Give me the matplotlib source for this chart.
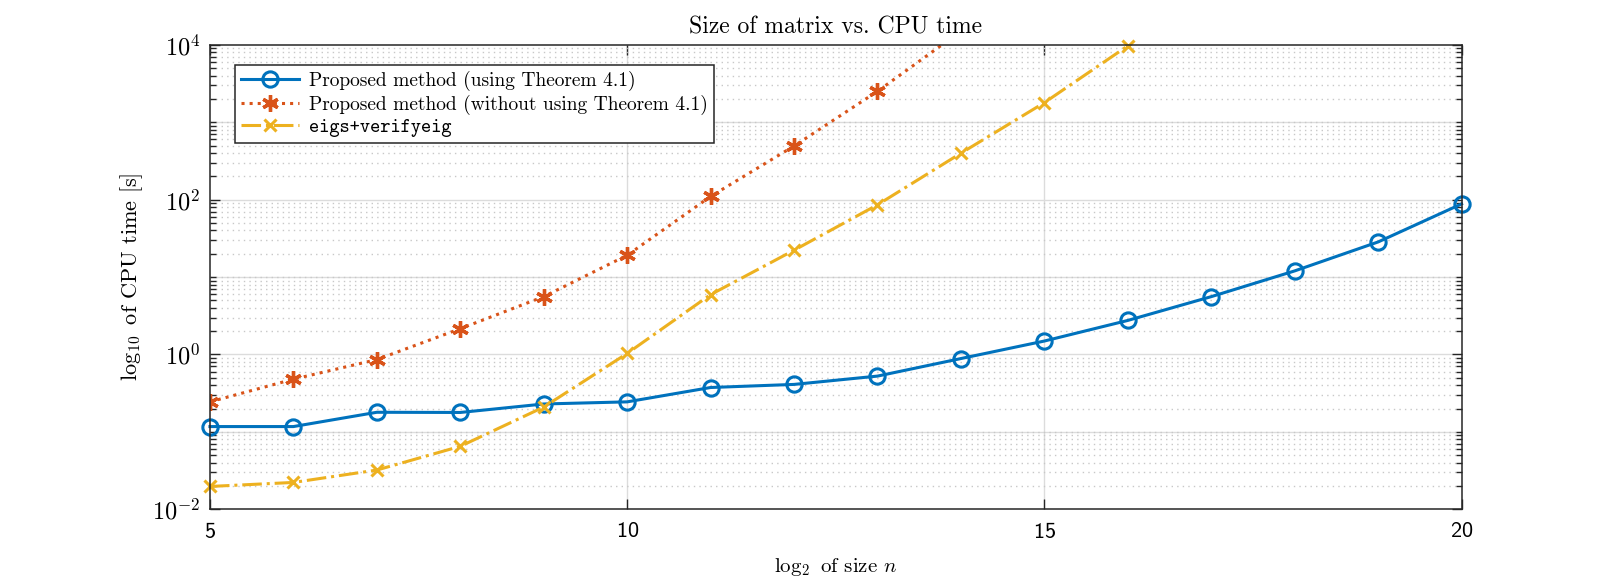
import numpy as np
import matplotlib
matplotlib.use('Agg')
from matplotlib import pyplot as plt
from matplotlib.ticker import LogLocator, FixedLocator, FuncFormatter, NullFormatter

plt.rcParams['mathtext.fontset'] = 'cm'
plt.rcParams['axes.formatter.use_mathtext'] = True

# data
n_blue = [5, 6, 7, 8, 9, 10, 11, 12, 13, 14, 15, 16, 17, 18, 19, 20]
t_blue = [0.117, 0.117, 0.179, 0.178, 0.229, 0.244, 0.374, 0.41, 0.525, 0.885,
          1.49, 2.75, 5.58, 12.0, 28.4, 88.0]

n_red = [5, 6, 7, 8, 9, 10, 11, 12, 13, 14]
t_red = [0.244, 0.479, 0.858, 2.15, 5.58, 19.1, 110.0, 493.0, 2510.0, 15000.0]

n_yel = [5, 6, 7, 8, 9, 10, 11, 12, 13, 14, 15, 16]
t_yel = [0.0197, 0.0222, 0.0321, 0.065, 0.209, 1.03, 5.93, 22.2, 85.7, 398.0,
         1790.0, 9700.0]

labels = ['Proposed method (using Theorem 4.1)',
          'Proposed method (without using Theorem 4.1)',
          'eigs+verifyeig']
xticks = [5, 10, 15, 20]

blue = '#0072BD'
red = '#D95319'
yel = '#EDB120'

fig = plt.figure(figsize=(16.15, 5.82), dpi=100)
ax = fig.add_axes([0.130, 0.125, 0.775, 0.798])

ax.plot(n_blue, t_blue, '-', color=blue, lw=2.2, marker='o', ms=11,
        mfc='none', mew=2.2, label=labels[0], clip_on=False)
ax.plot(n_red, t_red, ':', color=red, lw=2.2, marker=(6, 2, 0), ms=12,
        mew=2.4, label=labels[1])
ax.plot(n_yel, t_yel, '-.', color=yel, lw=2.2, marker='x', ms=9,
        mew=2.2, label=labels[2], clip_on=False)

ax.set_yscale('log')
ax.set_xlim(5, 20)
ax.set_ylim(1e-2, 1e4)

ax.xaxis.set_major_locator(FixedLocator(xticks))
ax.yaxis.set_major_locator(FixedLocator([1e-2, 1e0, 1e2, 1e4]))
ax.yaxis.set_minor_locator(LogLocator(base=10, subs=np.arange(1, 10) * 1.0, numticks=20))
ax.yaxis.set_minor_formatter(NullFormatter())
ax.yaxis.set_major_formatter(FuncFormatter(
    lambda v, p: r'$\mathsf{10^{%d}}$' % int(round(np.log10(v)))))

ax.tick_params(which='both', direction='in', top=True, right=True,
               color='#262626', width=1)
ax.tick_params(which='major', length=7)
ax.tick_params(axis='x', which='major', labelsize=16, pad=9)
ax.tick_params(axis='y', which='major', labelsize=17.5, pad=7)
ax.tick_params(which='minor', length=4)
for lab in ax.get_xticklabels():
    lab.set_fontfamily('cmss10')

# major grid (decades only) and dotted minor grid
for yv in [1e-1, 1e0, 1e1, 1e2, 1e3]:
    ax.axhline(yv, color='#dcdcdc', lw=1, zorder=0)
for xv in xticks[1:-1]:
    ax.axvline(xv, color='#dcdcdc', lw=1, zorder=0)
ax.yaxis.grid(True, which='minor', color='#c8c8c8', ls=(0, (1, 3)), lw=1)
ax.set_axisbelow(True)

for s in ax.spines.values():
    s.set_color('#262626')
    s.set_linewidth(1.1)

ax.set_title('Size of matrix vs. CPU time', fontfamily='cmr10', fontsize=17, pad=8)
ax.set_xlabel(r'$\log_2$ of size $n$', fontfamily='cmr10', fontsize=15, labelpad=10)
ax.set_ylabel(r'$\log_{10}$ of CPU time [s]', fontfamily='cmr10', fontsize=16, labelpad=5)

leg = ax.legend(loc='upper left', bbox_to_anchor=(0.02, 0.957), borderaxespad=0,
                fancybox=False, framealpha=1, edgecolor='#262626', borderpad=0.3,
                labelspacing=0.2, handlelength=3.0, handletextpad=0.5,
                prop={'family': 'cmr10', 'size': 14})
leg.get_frame().set_linewidth(1.1)
leg.get_texts()[2].set_fontfamily('cmtt10')

fig.savefig('out.png', dpi=100)
